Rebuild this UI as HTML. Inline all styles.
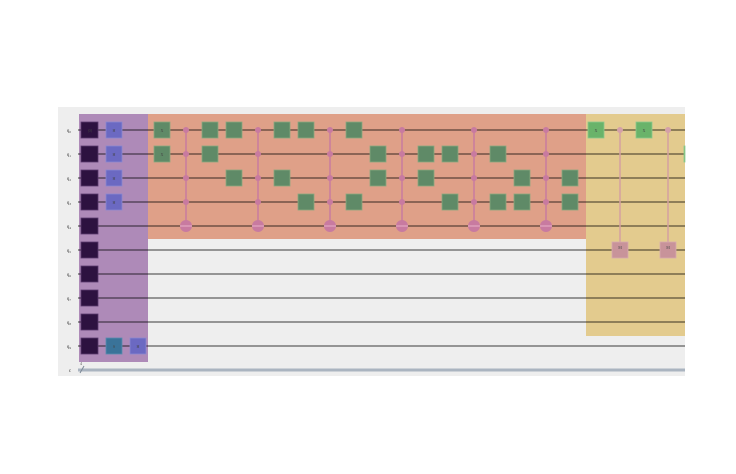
<!DOCTYPE html>
<html><head><meta charset="utf-8"><style>
html,body{margin:0;padding:0;background:#fff;}
svg{display:block;font-family:"Liberation Serif",serif;}
</style></head><body>
<svg width="736" height="474" viewBox="0 0 736 474" xmlns="http://www.w3.org/2000/svg">
<rect x="58" y="107" width="627" height="269" fill="#eeeeee"/>
<rect x="79" y="114" width="69" height="248" fill="#ae8ab8"/>
<rect x="148" y="114" width="438" height="125" fill="#dfa088"/>
<rect x="586" y="114" width="99" height="222" fill="#e3cb8e"/>
<g stroke="rgba(0,0,0,0.5)" stroke-width="1.5">
<line x1="78" y1="130" x2="685" y2="130"/><line x1="78" y1="154" x2="685" y2="154"/>
<line x1="78" y1="178" x2="685" y2="178"/><line x1="78" y1="202" x2="685" y2="202"/>
<line x1="78" y1="226" x2="685" y2="226"/><line x1="78" y1="250" x2="685" y2="250"/>
<line x1="78" y1="274" x2="685" y2="274"/><line x1="78" y1="298" x2="685" y2="298"/>
<line x1="78" y1="322" x2="685" y2="322"/><line x1="78" y1="346" x2="685" y2="346"/>
</g>
<line x1="78" y1="370" x2="685" y2="370" stroke="#aab4c0" stroke-width="3"/>
<line x1="80" y1="373" x2="84" y2="366" stroke="#7c8896" stroke-width="1"/>
<text x="80" y="365" font-size="4" fill="#555">4</text>
<g font-size="5" fill="#333" text-anchor="middle">
<text x="69" y="132">q₀</text><text x="69" y="156">q₁</text><text x="69" y="180">q₂</text><text x="69" y="204">q₃</text><text x="69" y="228">q₄</text><text x="69" y="252">q₅</text><text x="69" y="276">q₆</text><text x="69" y="300">q₇</text><text x="69" y="324">q₈</text><text x="69" y="348">q₉</text><text x="70" y="372">c</text>
</g>
<!-- init -->
<g fill="#2d1240" stroke="#5a3a6e" stroke-width="0.8">
<rect x="81" y="122" width="17" height="16"/><rect x="81" y="146" width="17" height="16"/><rect x="81" y="170" width="17" height="16"/><rect x="81" y="194" width="17" height="16"/><rect x="81" y="218" width="17" height="16"/><rect x="81" y="242" width="17" height="16"/><rect x="81" y="266" width="17" height="16"/><rect x="81" y="290" width="17" height="16"/><rect x="81" y="314" width="17" height="16"/><rect x="81" y="338" width="17" height="16"/>
</g>
<g fill="#6b69c2" stroke="#8a88d0" stroke-width="0.8">
<rect x="106" y="122" width="16" height="16"/><rect x="106" y="146" width="16" height="16"/><rect x="106" y="170" width="16" height="16"/><rect x="106" y="194" width="16" height="16"/><rect x="130" y="338" width="16" height="16"/>
</g>
<rect x="106" y="338" width="16" height="16" fill="#3a7399" stroke="#5a8cb0" stroke-width="0.8"/>
<!-- CNOTs -->
<g stroke="#c87aa0" stroke-width="1.5" fill="#c87aa0">
<line x1="186" y1="130" x2="186" y2="226"/><line x1="258" y1="130" x2="258" y2="226"/><line x1="330" y1="130" x2="330" y2="226"/><line x1="402" y1="130" x2="402" y2="226"/><line x1="474" y1="130" x2="474" y2="226"/><line x1="546" y1="130" x2="546" y2="226"/>
</g>
<g fill="#c87aa0">
<circle cx="186" cy="130" r="3"/><circle cx="186" cy="154" r="3"/><circle cx="186" cy="178" r="3"/><circle cx="186" cy="202" r="3"/>
<circle cx="258" cy="130" r="3"/><circle cx="258" cy="154" r="3"/><circle cx="258" cy="178" r="3"/><circle cx="258" cy="202" r="3"/>
<circle cx="330" cy="130" r="3"/><circle cx="330" cy="154" r="3"/><circle cx="330" cy="178" r="3"/><circle cx="330" cy="202" r="3"/>
<circle cx="402" cy="130" r="3"/><circle cx="402" cy="154" r="3"/><circle cx="402" cy="178" r="3"/><circle cx="402" cy="202" r="3"/>
<circle cx="474" cy="130" r="3"/><circle cx="474" cy="154" r="3"/><circle cx="474" cy="178" r="3"/><circle cx="474" cy="202" r="3"/>
<circle cx="546" cy="130" r="3"/><circle cx="546" cy="154" r="3"/><circle cx="546" cy="178" r="3"/><circle cx="546" cy="202" r="3"/>
<circle cx="186" cy="226" r="6"/><circle cx="258" cy="226" r="6"/><circle cx="330" cy="226" r="6"/><circle cx="402" cy="226" r="6"/><circle cx="474" cy="226" r="6"/><circle cx="546" cy="226" r="6"/>
</g>
<g stroke="#e8b0c8" stroke-width="1">
<line x1="180" y1="226" x2="192" y2="226"/><line x1="252" y1="226" x2="264" y2="226"/><line x1="324" y1="226" x2="336" y2="226"/><line x1="396" y1="226" x2="408" y2="226"/><line x1="468" y1="226" x2="480" y2="226"/><line x1="540" y1="226" x2="552" y2="226"/>
</g>
<!-- X gates -->
<g fill="#5f8a67" stroke="#8aa87f" stroke-width="0.8">
<rect x="154" y="122" width="16" height="16"/><rect x="154" y="146" width="16" height="16"/>
<rect x="202" y="122" width="16" height="16"/><rect x="202" y="146" width="16" height="16"/>
<rect x="226" y="122" width="16" height="16"/><rect x="226" y="170" width="16" height="16"/>
<rect x="274" y="122" width="16" height="16"/><rect x="274" y="170" width="16" height="16"/>
<rect x="298" y="122" width="16" height="16"/><rect x="298" y="194" width="16" height="16"/>
<rect x="346" y="122" width="16" height="16"/><rect x="346" y="194" width="16" height="16"/>
<rect x="370" y="146" width="16" height="16"/><rect x="370" y="170" width="16" height="16"/>
<rect x="418" y="146" width="16" height="16"/><rect x="418" y="170" width="16" height="16"/>
<rect x="442" y="146" width="16" height="16"/><rect x="442" y="194" width="16" height="16"/>
<rect x="490" y="146" width="16" height="16"/><rect x="490" y="194" width="16" height="16"/>
<rect x="514" y="170" width="16" height="16"/><rect x="514" y="194" width="16" height="16"/>
<rect x="562" y="170" width="16" height="16"/><rect x="562" y="194" width="16" height="16"/>
</g>
<!-- yellow section -->
<g stroke="#d4a0a0" stroke-width="1.5"><line x1="620" y1="130" x2="620" y2="242"/><line x1="668" y1="130" x2="668" y2="242"/></g>
<g fill="#d4a0a8"><circle cx="620" cy="130" r="3"/><circle cx="668" cy="130" r="3"/></g>
<g fill="#c8939a" stroke="#d8aaae" stroke-width="0.8"><rect x="612" y="242" width="16" height="16"/><rect x="660" y="242" width="16" height="16"/></g>
<g fill="#6ab36a" stroke="#8cc88c" stroke-width="0.8"><rect x="588" y="122" width="16" height="16"/><rect x="636" y="122" width="16" height="16"/><rect x="684" y="146" width="1" height="16"/></g>
<g font-size="4" fill="#444" text-anchor="middle">
<text x="90" y="132">|0⟩</text><text x="114" y="132">H</text><text x="114" y="156">H</text><text x="114" y="180">H</text><text x="114" y="204">H</text><text x="114" y="348">S</text><text x="138" y="348">H</text>
<text x="162" y="132">X</text><text x="162" y="156">X</text><text x="596" y="132">X</text><text x="644" y="132">X</text><text x="620" y="249">M</text><text x="668" y="249">M</text>
</g>
</svg>
</body></html>
